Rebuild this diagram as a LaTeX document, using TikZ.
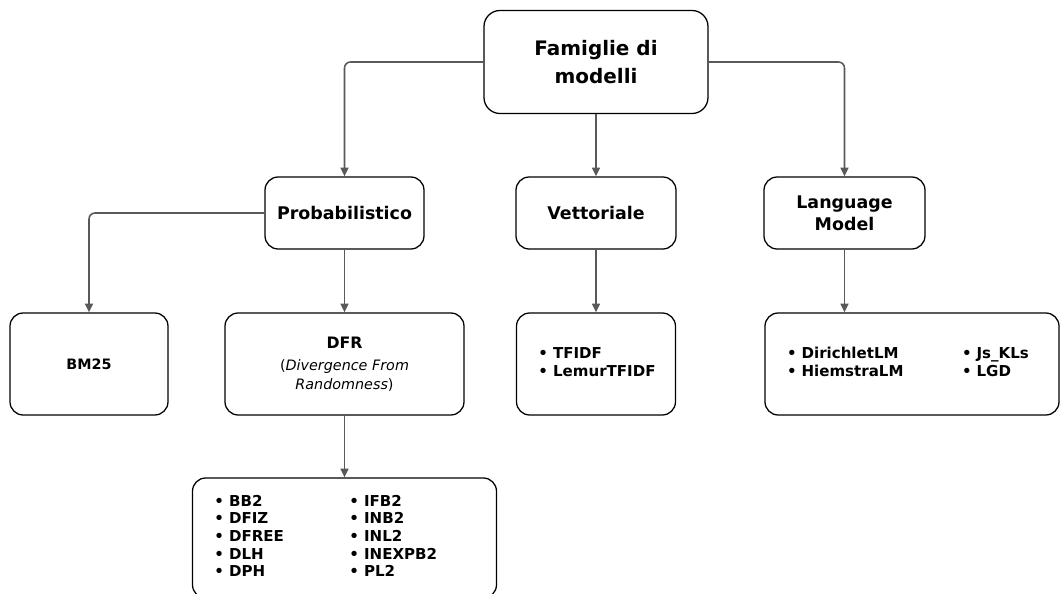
\documentclass[tikz,border=0pt]{standalone}
\usepackage{fontspec}
\setmainfont{DejaVu Sans}
\usetikzlibrary{arrows.meta}
\definecolor{linegray}{HTML}{595959}

\begin{document}
\begin{tikzpicture}[node distance=3.775cm,
  box/.style={draw, line width=0.9pt, rounded corners=0.33cm, align=center, inner sep=0pt},
  head/.style={box, minimum height=1.8cm, font=\bfseries\fontsize{12.4}{15.4}\selectfont},
  leaf/.style={box, minimum height=2.55cm, font=\bfseries\fontsize{10.2}{12.6}\selectfont},
  list/.style={leaf, align=left, inner xsep=0.55cm, font=\bfseries\fontsize{10.7}{12.6}\selectfont},
  arr/.style={draw=linegray, line width=1.1pt, rounded corners=0.15cm, -{Triangle[length=2.2mm,width=2mm]}}]
  \useasboundingbox (-14.9,1.55) rectangle (11.6,-13.3);

  \node (root) [box, minimum width=5.6cm, minimum height=2.575cm, rounded corners=0.4cm, font=\bfseries\fontsize{14.2}{19.4}\selectfont] {Famiglie di\\modelli};
  \node (prob) [head, below of=root, xshift=-6.2875cm, minimum width=3.975cm] {Probabilistico};
  \node (vett) [head, below of=root, minimum width=4cm] {Vettoriale};
  \node (lang) [head, below of=root, xshift=6.2125cm, minimum width=4.025cm] {Language\\Model};

  \node (bm25) [leaf, below of=prob, xshift=-6.3875cm, minimum width=3.95cm] {BM25};
  \node (dfr) [leaf, below of=prob, minimum width=5.975cm] {\fontsize{11.2}{14}\selectfont DFR\\[3pt]
    \mdseries\fontsize{10.2}{14}\selectfont(\textit{Divergence From}\\[1pt]
    \mdseries\fontsize{10.2}{14}\selectfont\textit{Randomness})};
  \node (vlist) [list, below of=vett, text width=2.875cm] {\begin{tabular}{@{}l@{}}
    \textbullet\ TFIDF\\
    \textbullet\ LemurTFIDF
  \end{tabular}};
  \node (llist) [list, below of=lang, xshift=1.6875cm, text width=6.25cm] {\begin{tabular}{@{}p{4.375cm}@{}l@{}}
    \textbullet\ DirichletLM & \textbullet\ Js\_KLs\\
    \textbullet\ HiemstraLM & \textbullet\ LGD
  \end{tabular}};
  \node (plist) [list, below of=dfr, yshift=-0.575cm, text width=6.5cm, minimum height=3cm] {\begin{tabular}{@{}p{3.375cm}@{}l@{}}
    \textbullet\ BB2 & \textbullet\ IFB2\\
    \textbullet\ DFIZ & \textbullet\ INB2\\
    \textbullet\ DFREE & \textbullet\ INL2\\
    \textbullet\ DLH & \textbullet\ INEXPB2\\
    \textbullet\ DPH & \textbullet\ PL2
  \end{tabular}};

  \draw[arr] (root.west) -| (prob.north);
  \draw[arr] (root.south) -- (vett.north);
  \draw[arr] (root.east) -| (lang.north);
  \draw[arr] (prob.west) -| (bm25.north);
  \draw[arr] (prob.south) -- (dfr.north);
  \draw[arr] (vett.south) -- (vlist.north);
  \draw[arr] (lang.south) -- (lang.south |- llist.north);
  \draw[arr] (dfr.south) -- (plist.north);
\end{tikzpicture}
\end{document}
